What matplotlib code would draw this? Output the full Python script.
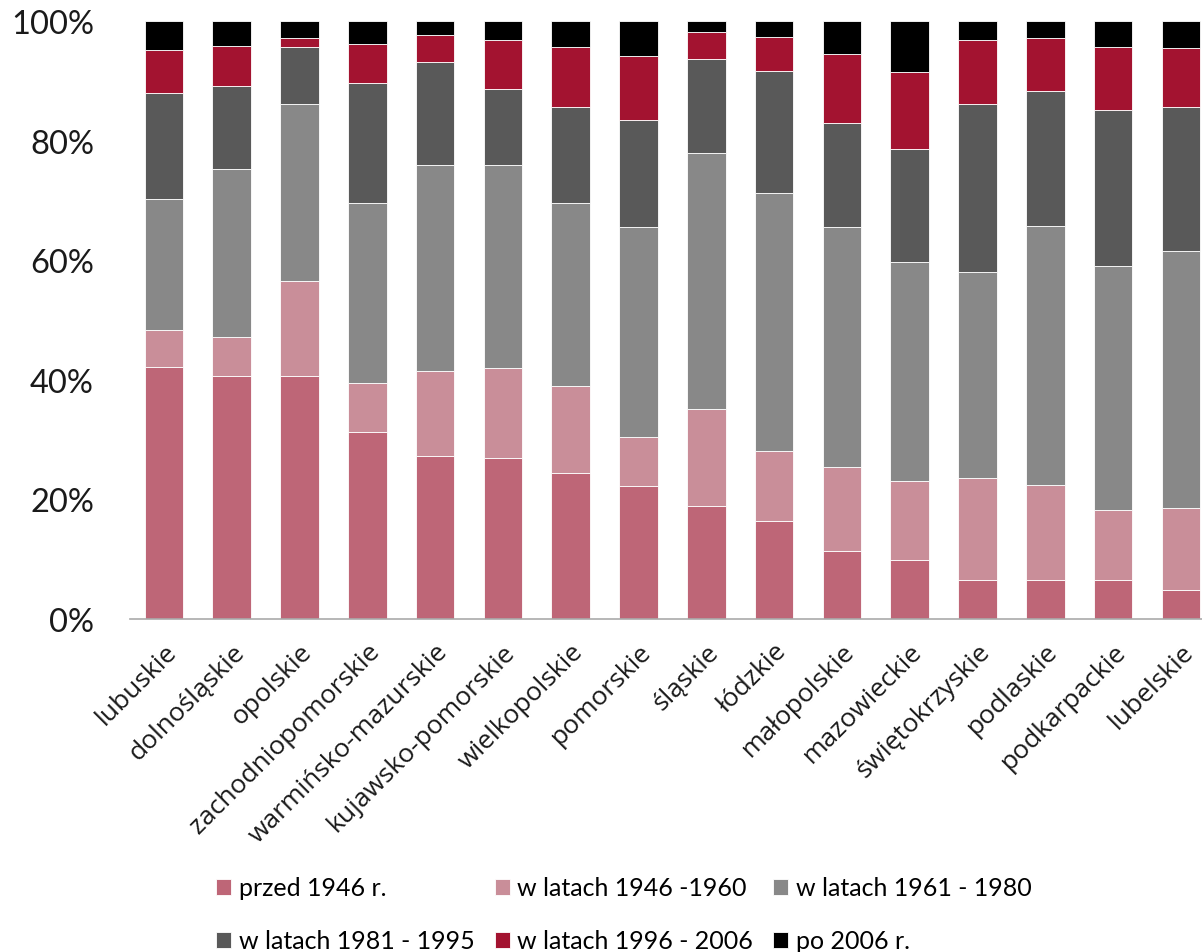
import matplotlib
matplotlib.use("Agg")
import matplotlib.pyplot as plt
import numpy as np

regions = ["lubuskie", "dolnośląskie", "opolskie", "zachodniopomorskie",
           "warmińsko-mazurskie", "kujawsko-pomorskie", "wielkopolskie",
           "pomorskie", "śląskie", "łódzkie", "małopolskie", "mazowieckie",
           "świętokrzyskie", "podlaskie", "podkarpackie", "lubelskie"]

series_labels = ["przed 1946 r.", "w latach 1946 -1960", "w latach 1961 - 1980",
                 "w latach 1981 - 1995", "w latach 1996 - 2006", "po 2006 r."]

przed_1946 = [42.2, 40.7, 40.6, 31.2, 27.3, 26.9, 24.4, 22.3, 18.9, 16.4, 11.3, 9.9, 6.6, 6.6, 6.6, 4.9]
lata_1946_1960 = [6.1, 6.4, 16.0, 8.3, 14.1, 15.1, 14.6, 8.1, 16.3, 11.7, 14.1, 13.1, 17.0, 15.8, 11.6, 13.6]
lata_1961_1980 = [22.0, 28.1, 29.5, 30.0, 34.6, 33.9, 30.5, 35.2, 42.7, 43.1, 40.2, 36.7, 34.5, 43.4, 40.8, 43.1]
lata_1981_1995 = [17.6, 14.0, 9.5, 20.1, 17.2, 12.7, 16.2, 17.8, 15.7, 20.4, 17.3, 18.9, 28.1, 22.5, 26.2, 24.1]
lata_1996_2006 = [7.3, 6.6, 1.5, 6.5, 4.4, 8.3, 9.9, 10.7, 4.5, 5.8, 11.5, 12.8, 10.7, 8.8, 10.4, 9.8]
po_2006 = [4.8, 4.2, 2.9, 3.9, 2.4, 3.1, 4.4, 5.9, 1.9, 2.6, 5.6, 8.6, 3.1, 2.9, 4.4, 4.5]

colors = ["#BE6677", "#C98E99", "#888888", "#595959", "#A31330", "#000000"]

plt.rcParams['font.family'] = ['Lato', 'DejaVu Sans']

fig = plt.figure(figsize=(12.02, 9.53), dpi=100)
ax = fig.add_axes([130 / 1202, 1 - 620 / 953, 1 - 130 / 1202, (620 - 22) / 953])

data = np.array([przed_1946, lata_1946_1960, lata_1961_1980,
                 lata_1981_1995, lata_1996_2006, po_2006])
totals = data.sum(axis=0)
shares = data / totals * 100

x = np.arange(len(regions))
bottom = np.zeros(len(regions))
handles = []
for vals, col, lab in zip(shares, colors, series_labels):
    h = ax.bar(x, vals, bottom=bottom, width=0.57, color=col, label=lab,
               edgecolor="white", linewidth=0.6)
    handles.append(h)
    bottom += vals

ax.set_xlim(-0.5, 15.31)
ax.set_ylim(0, 100)
ax.set_yticks([0, 20, 40, 60, 80, 100])
ax.set_yticklabels([f"{v}%" for v in [0, 20, 40, 60, 80, 100]],
                   fontsize=23.5, color="#1a1a1a")
ax.tick_params(axis="y", length=0, pad=26)
ax.tick_params(axis="x", length=0, pad=14)
ax.set_xticks(x)
ax.set_xticklabels(regions, rotation=45, ha="right", va="top",
                   rotation_mode="anchor", fontsize=19, color="#1a1a1a",
                   family=["Open Sans", "DejaVu Sans"])
for side in ["top", "right", "left"]:
    ax.spines[side].set_visible(False)
ax.spines["bottom"].set_color("#AAAAAA")
ax.spines["bottom"].set_linewidth(1.2)

# legend laid out row-wise in three columns
order = [0, 3, 1, 4, 2, 5]
fig.legend([handles[i] for i in order], [series_labels[i] for i in order],
           ncol=3, loc="lower left", bbox_to_anchor=(204 / 1202, -13 / 953),
           frameon=False, prop={"size": 18},
           handlelength=0.6, handleheight=0.6,
           handletextpad=0.3, columnspacing=0.8, labelspacing=1.2,
           borderaxespad=0.1)

fig.savefig("out.png", dpi=100)
